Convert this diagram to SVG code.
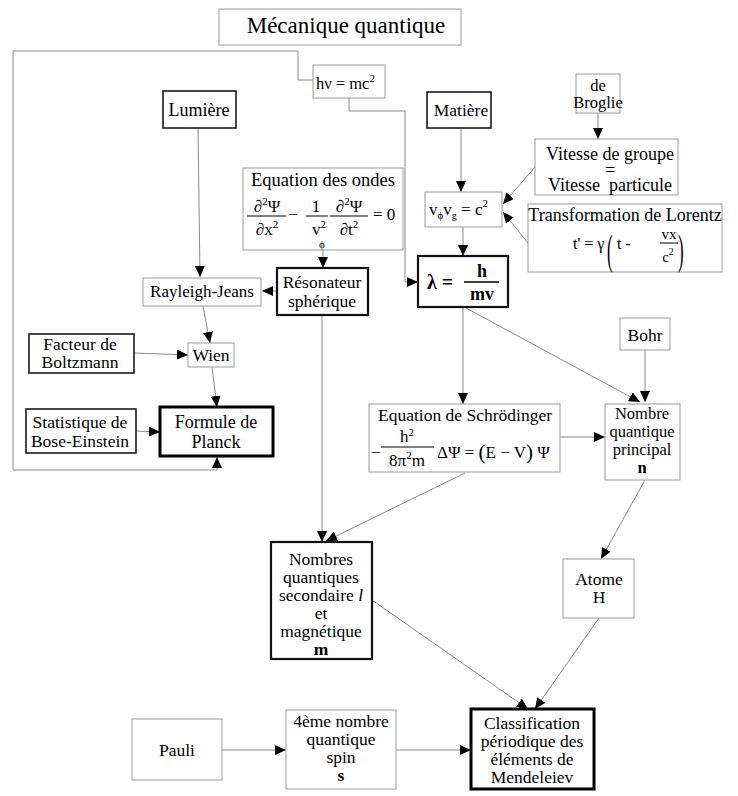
<svg xmlns="http://www.w3.org/2000/svg" width="738" height="796" viewBox="0 0 738 796">
<defs>
<marker id="ar" markerUnits="userSpaceOnUse" markerWidth="11" markerHeight="10" refX="11" refY="5" orient="auto">
<path d="M0,0 L11,5 L0,10 z" fill="#000"/>
</marker>
<style>
text{font-family:"Liberation Serif","Times New Roman","DejaVu Serif",serif;font-size:17.5px;fill:#000}
.c{text-anchor:middle}
.l{fill:#fff;stroke:#9a9a9a;stroke-width:1}
.d{fill:#fff;stroke:#1a1a1a;stroke-width:1.6}
.d2{fill:#fff;stroke:#111;stroke-width:2.2}
.d3{fill:#fff;stroke:#000;stroke-width:3}
.e{fill:none;stroke:#8a8a8a;stroke-width:1}
.a{fill:none;stroke:#8a8a8a;stroke-width:1;marker-end:url(#ar)}
.b{font-weight:bold}
.bar{stroke:#000;stroke-width:1}
.m{font-size:16.5px}
</style>
</defs>
<rect width="738" height="796" fill="#fff"/>

<g id="connectors">
<polyline class="e" points="298,80 298,51 13,51 13,470 217,470"/>
<line class="a" x1="217" y1="470" x2="217" y2="457"/>
<line class="e" x1="298" y1="80" x2="313" y2="80"/>
<polyline class="a" points="349,98 349,111 405,111 405,282 418,282"/>
<line class="a" x1="198" y1="128" x2="200" y2="277"/>
<line class="a" x1="323" y1="250" x2="323" y2="268"/>
<line class="a" x1="276" y1="291" x2="262" y2="291"/>
<line class="a" x1="203" y1="306" x2="210" y2="343"/>
<line class="a" x1="134" y1="353" x2="188" y2="355"/>
<line class="a" x1="212" y1="367" x2="217" y2="407"/>
<line class="a" x1="136" y1="431" x2="160" y2="432"/>
<line class="a" x1="461" y1="128" x2="461" y2="192"/>
<line class="a" x1="598" y1="113" x2="598" y2="139"/>
<line class="a" x1="535" y1="167" x2="503" y2="204"/>
<line class="a" x1="528" y1="243" x2="503" y2="212"/>
<line class="a" x1="463" y1="227" x2="463" y2="256"/>
<line class="a" x1="463" y1="307" x2="463" y2="404"/>
<line class="a" x1="466" y1="308" x2="640" y2="402"/>
<line class="a" x1="645" y1="350" x2="645" y2="402"/>
<line class="a" x1="560" y1="437" x2="605" y2="437"/>
<line class="a" x1="645" y1="480" x2="601" y2="559"/>
<line class="a" x1="322" y1="315" x2="322" y2="542"/>
<line class="a" x1="465" y1="473" x2="326" y2="541"/>
<line class="a" x1="372" y1="600" x2="528" y2="709"/>
<line class="a" x1="599" y1="618" x2="535" y2="709"/>
<line class="a" x1="222" y1="750" x2="286" y2="750"/>
<line class="a" x1="396" y1="750" x2="471" y2="750"/>
</g>

<g id="title">
<rect class="l" x="219" y="9" width="242" height="36"/>
<text x="346" y="33" class="c" style="font-size:23px">Mécanique quantique</text>
</g>

<g id="hv">
<rect class="l" x="313" y="65" width="72" height="33"/>
<text x="316" y="89" style="font-size:16.5px">hν = mc<tspan dy="-7" style="font-size:11px">2</tspan></text>
</g>

<g id="lumiere">
<rect class="d" x="163" y="91" width="73" height="37"/>
<text x="199" y="116" class="c" style="font-size:18px">Lumière</text>
</g>

<g id="matiere">
<rect class="d" x="427" y="92" width="64" height="36"/>
<text x="461" y="116" class="c">Matière</text>
</g>

<g id="debroglie">
<rect class="l" x="576" y="74" width="44" height="39"/>
<text x="598" y="91" class="c m">de</text>
<text x="598" y="108" class="c m">Broglie</text>
</g>

<g id="vitesse">
<rect class="l" x="535" y="139" width="143" height="56"/>
<text x="610" y="160" class="c" style="font-size:18px">Vitesse de groupe</text>
<text x="610" y="176" class="c" style="font-size:18px">=</text>
<text x="610" y="191" class="c" style="font-size:18px" xml:space="preserve">Vitesse  particule</text>
</g>

<g id="vphivg">
<rect class="l" x="425" y="192" width="77" height="35"/>
<text x="429" y="215" style="font-size:17px">v<tspan dy="4" style="font-size:11px">ϕ</tspan><tspan dy="-4">v</tspan><tspan dy="4" style="font-size:10px">g</tspan><tspan dy="-4"> = c</tspan><tspan dy="-8" style="font-size:11px">2</tspan></text>
</g>

<g id="lorentz">
<rect class="l" x="528" y="204" width="194" height="68"/>
<text x="625" y="221" class="c" style="font-size:18px">Transformation de Lorentz</text>
<text x="573" y="249" style="font-size:16px">t' = γ</text>
<text transform="translate(607,264) scale(0.4,1)" style="font-size:42px">(</text>
<text x="617" y="249" style="font-size:16px">t -</text>
<text x="669" y="239" class="c" style="font-size:15px">vx</text>
<line class="bar" x1="660" y1="243" x2="678" y2="243"/>
<text x="668" y="262" class="c" style="font-size:15px">c<tspan dy="-7" style="font-size:10px">2</tspan></text>
<text transform="translate(678,264) scale(0.4,1)" style="font-size:42px">)</text>
</g>

<g id="ondes">
<rect class="l" x="243" y="168" width="160" height="82"/>
<text x="323" y="186" class="c" style="font-size:18.5px">Equation des ondes</text>
<text x="267" y="212" class="c" style="font-size:17px">∂<tspan dy="-7" style="font-size:11px">2</tspan><tspan dy="7">Ψ</tspan></text>
<line class="bar" x1="247" y1="216" x2="286" y2="216"/>
<text x="267" y="235" class="c" style="font-size:17px">∂x<tspan dy="-7" style="font-size:11px">2</tspan></text>
<text x="293" y="220" class="c" style="font-size:17px">−</text>
<text x="316" y="212" class="c" style="font-size:17px">1</text>
<line class="bar" x1="306" y1="216" x2="328" y2="216"/>
<text x="319" y="235" class="c" style="font-size:17px">v<tspan dy="-7" style="font-size:11px">2</tspan></text>
<text x="322" y="248" class="c" style="font-size:11px">ϕ</text>
<text x="349" y="212" class="c" style="font-size:17px">∂<tspan dy="-7" style="font-size:11px">2</tspan><tspan dy="7">Ψ</tspan></text>
<line class="bar" x1="330" y1="216" x2="368" y2="216"/>
<text x="349" y="235" class="c" style="font-size:17px">∂t<tspan dy="-7" style="font-size:11px">2</tspan></text>
<text x="373" y="220" style="font-size:17px">= 0</text>
</g>

<g id="resonateur">
<rect class="d2" x="277" y="268" width="91" height="47"/>
<text x="322" y="288" class="c">Résonateur</text>
<text x="322" y="307" class="c">sphérique</text>
</g>

<g id="lambda">
<rect class="d2" x="418" y="256" width="90" height="51"/>
<text x="427" y="289" class="b" style="font-size:20px">λ =</text>
<text x="482" y="277" class="c b" style="font-size:18px">h</text>
<line x1="464" y1="282" x2="499" y2="282" stroke="#000" stroke-width="1.5"/>
<text x="482" y="300" class="c b" style="font-size:18px">mv</text>
</g>

<g id="rayleigh">
<rect class="l" x="143" y="278" width="118" height="28"/>
<text x="202" y="297" class="c" style="font-size:17px">Rayleigh-Jeans</text>
</g>

<g id="boltzmann">
<rect class="d" x="29" y="334" width="105" height="39"/>
<text x="80" y="350" class="c">Facteur de</text>
<text x="80" y="368" class="c">Boltzmann</text>
</g>

<g id="wien">
<rect class="l" x="188" y="343" width="46" height="24"/>
<text x="211" y="361" class="c">Wien</text>
</g>

<g id="bose">
<rect class="d" x="26" y="409" width="110" height="44"/>
<text x="80" y="428" class="c">Statistique de</text>
<text x="80" y="447" class="c">Bose-Einstein</text>
</g>

<g id="planck">
<rect class="d3" x="160" y="407" width="113" height="49"/>
<text x="216" y="428" class="c" style="font-size:18px">Formule de</text>
<text x="216" y="448" class="c" style="font-size:18px">Planck</text>
</g>

<g id="bohr">
<rect class="l" x="620" y="318" width="50" height="32"/>
<text x="645" y="341" class="c">Bohr</text>
</g>

<g id="schrodinger">
<rect class="l" x="369" y="404" width="191" height="68"/>
<text x="465" y="421" class="c">Equation de Schrödinger</text>
<text x="371" y="458" style="font-size:17px">−</text>
<text x="407" y="442" class="c" style="font-size:17px">h<tspan dy="-6" style="font-size:11px">2</tspan></text>
<line class="bar" x1="381" y1="447" x2="434" y2="447"/>
<text x="407" y="466" class="c" style="font-size:17px">8π<tspan dy="-7" style="font-size:11px">2</tspan><tspan dy="7">m</tspan></text>
<text x="437" y="458" style="font-size:17px">ΔΨ = <tspan dy="1" style="font-size:21px">(</tspan><tspan dy="-1">E − V</tspan><tspan dy="1" style="font-size:21px">)</tspan><tspan dy="-1"> Ψ</tspan></text>
</g>

<g id="principal">
<rect class="l" x="605" y="404" width="75" height="76"/>
<text x="642" y="419" class="c m">Nombre</text>
<text x="642" y="437" class="c m">quantique</text>
<text x="642" y="455" class="c m">principal</text>
<text x="642" y="473" class="c b m">n</text>
</g>

<g id="atome">
<rect class="l" x="563" y="559" width="71" height="59"/>
<text x="599" y="585" class="c">Atome</text>
<text x="599" y="603" class="c">H</text>
</g>

<g id="secondaire">
<rect class="d2" x="271" y="542" width="101" height="117"/>
<text x="321" y="565" class="c">Nombres</text>
<text x="321" y="583" class="c">quantiques</text>
<text x="321" y="601" class="c">secondaire <tspan font-style="italic">l</tspan></text>
<text x="321" y="619" class="c">et</text>
<text x="321" y="637" class="c">magnétique</text>
<text x="321" y="655" class="c b">m</text>
</g>

<g id="pauli">
<rect class="l" x="132" y="719" width="90" height="61"/>
<text x="177" y="756" class="c">Pauli</text>
</g>

<g id="spin">
<rect class="l" x="286" y="710" width="110" height="79"/>
<text x="341" y="727" class="c">4ème nombre</text>
<text x="341" y="745" class="c">quantique</text>
<text x="341" y="763" class="c">spin</text>
<text x="341" y="781" class="c b">s</text>
</g>

<g id="classification">
<rect class="d3" x="471" y="709" width="123" height="80"/>
<text x="532" y="729" class="c">Classification</text>
<text x="532" y="747" class="c">périodique des</text>
<text x="532" y="765" class="c">éléments de</text>
<text x="532" y="783" class="c">Mendeleiev</text>
</g>
</svg>
